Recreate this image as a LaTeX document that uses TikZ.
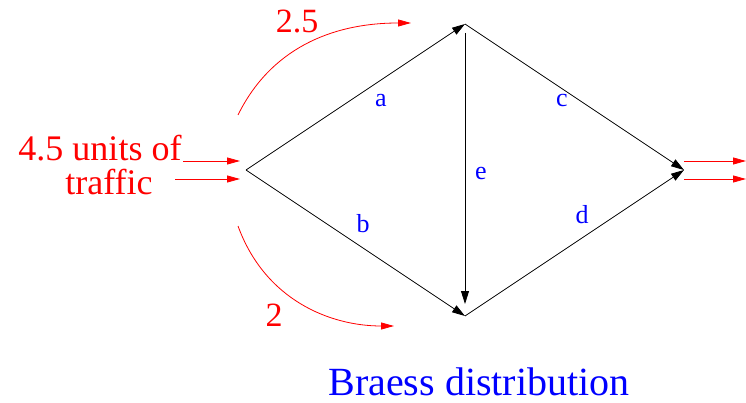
\documentclass[tikz,border=0pt]{standalone}
\usepackage{fontspec}
\setmainfont{Liberation Serif}
\newfontfamily\timesfont{Liberation Serif}
\usetikzlibrary{arrows.meta}
\begin{document}
\begin{tikzpicture}[x=1pt,y=-1pt,
  edge/.style={draw=black,line width=0.8pt,-{Triangle[length=13pt,width=8pt]}},
  flow/.style={draw=red,line width=0.8pt,-{Triangle[length=13pt,width=7pt]}},
  redtext/.style={text=red,inner sep=0pt,anchor=base,font=\timesfont\fontsize{36}{36}\selectfont},
  bluetext/.style={text=blue,inner sep=0pt,anchor=base,font=\timesfont\fontsize{26}{26}\selectfont}]
\useasboundingbox (0,0) rectangle (746,403);
% vertices
\coordinate (S) at (246,170);
\coordinate (T) at (465,24);
\coordinate (B) at (465,316);
\coordinate (E) at (684,170);
\coordinate (Etop) at (465,33);
\coordinate (Ebot) at (465,304);
% edges
\draw[edge] (S) -- (T);
\draw[edge] (S) -- (B);
\draw[edge] (T) -- (E);
\draw[edge] (B) -- (E);
\draw[edge] (Etop) -- (Ebot);
% edge labels
\node[bluetext] (la) at (381,107) {a};
\node[bluetext] (lb) at (363,233) {b};
\node[bluetext] (lc) at (562,107) {c};
\node[bluetext] (le) at (481,180) {e};
\node[bluetext] (ld) at (582,223) {d};
% input flows
\coordinate (in1s) at (183,161);
\coordinate (in1e) at (240,161);
\coordinate (in2s) at (175,179);
\coordinate (in2e) at (240,179);
\draw[flow] (in1s) -- (in1e);
\draw[flow] (in2s) -- (in2e);
% output flows
\coordinate (out1s) at (684,161);
\coordinate (out1e) at (746,161);
\coordinate (out2s) at (684,179);
\coordinate (out2e) at (746,179);
\draw[flow] (out1s) -- (out1e);
\draw[flow] (out2s) -- (out2e);
% split curves
\coordinate (u0) at (238,115);
\coordinate (u1) at (411,23);
\coordinate (d0) at (238,226);
\coordinate (d1) at (394,326);
\draw[flow] (u0) .. controls (270,50) and (330,23) .. (u1);
\draw[flow] (d0) .. controls (265,300) and (330,326) .. (d1);
% texts
\node[redtext] (t1) at (100,161) {4.5 units of};
\node[redtext] (t2) at (109,195) {traffic};
\node[redtext,font=\timesfont\fontsize{34}{34}\selectfont] (f1) at (297,33) {2.5};
\node[redtext,font=\timesfont\fontsize{34}{34}\selectfont] (f2) at (274,326) {2};
\node[bluetext,font=\timesfont\fontsize{40}{40}\selectfont] (cap) at (479,395) {Braess distribution};
\end{tikzpicture}
\end{document}
